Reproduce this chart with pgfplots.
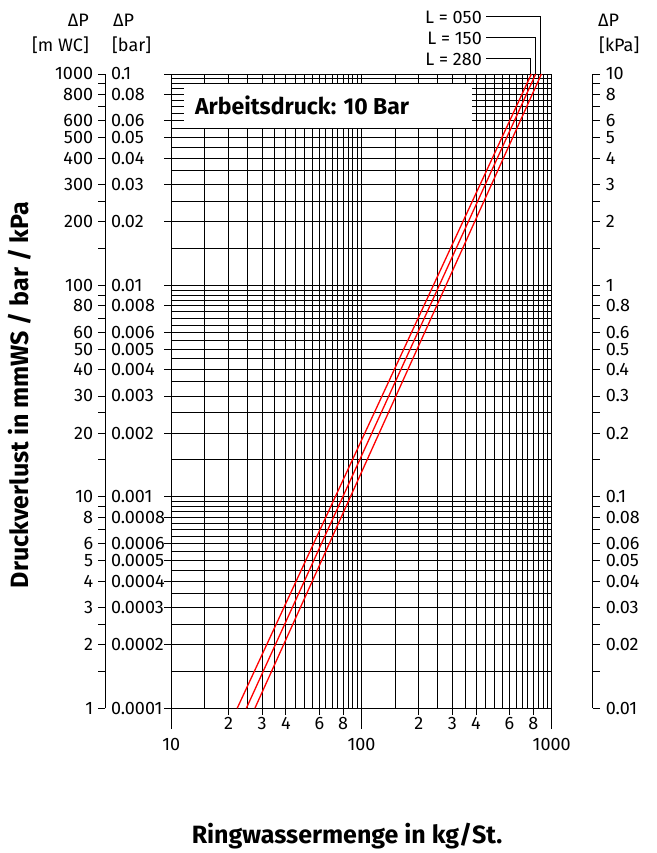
\documentclass[border=0pt]{standalone}
\usepackage{fontspec}
\setmainfont{Fira Sans}
\usepackage{pgfplots}
\pgfplotsset{compat=1.18}
\newcommand{\tf}{\fontsize{18}{18}\selectfont}
\newcommand{\bff}{\fontsize{23}{23}\selectfont\bfseries}
\newcommand{\bft}{\fontsize{25}{25}\selectfont\bfseries}
\begin{document}
\begin{tikzpicture}
\useasboundingbox (0,0) rectangle (656pt,853pt);
% main grid axis
\begin{axis}[
  at={(171.3pt,144.7pt)}, anchor=south west,
  scale only axis, width=380.4pt, height=634.3pt,
  xmode=log, ymode=log, xmin=10, xmax=1000, ymin=1, ymax=1000,
  clip=false,
  xtick={20,30,40,60,80,200,300,400,600,800},
  xticklabels={2,3,4,6,8,2,3,4,6,8},
  extra x ticks={10,100,1000},
  extra x tick labels={10,100,1000},
  extra x tick style={major tick length=21pt, xticklabel style={yshift=-7pt}},
  minor xtick={15,20,25,30,35,40,45,50,55,60,65,70,75,80,85,90,95,150,200,250,300,350,400,450,500,550,600,650,700,750,800,850,900,950},
  ytick={1,2,3,4,5,6,8,10,20,30,40,50,60,80,100,200,300,400,500,600,800,1000},
  yticklabels={},
  minor ytick={1.5,2,2.5,3,3.5,4,4.5,5,5.5,6,6.5,7,7.5,8,8.5,9,9.5,15,20,25,30,35,40,45,50,55,60,65,70,75,80,85,90,95,150,200,250,300,350,400,450,500,550,600,650,700,750,800,850,900,950},
  grid=both,
  major grid style={black, line width=0.9pt},
  minor grid style={black, line width=0.9pt},
  axis line style={black, line width=0.9pt},
  tick style={black, line width=0.9pt},
  tick align=outside, major tick length=7pt, minor tick length=0pt,
  xtick pos=bottom, ytick pos=left,
  xticklabel style={font=\tf, anchor=north, inner sep=0pt, yshift=-2pt},
]
\fill[white] (axis cs:11.66,900) rectangle (axis cs:381,556);
\node[anchor=west, font=\bff, inner sep=0pt] at (axis cs:13.3,713) {Arbeitsdruck: 10 Bar};
\addplot[red, line width=1.3pt] coordinates {(27.5,1) (883,1000)};
\addplot[red, line width=1.3pt] coordinates {(24.8,1) (824,1000)};
\addplot[red, line width=1.3pt] coordinates {(22.2,1) (782,1000)};
\end{axis}
% leader lines and L labels
\draw[black, line width=0.9pt] (540.7pt,779pt) -- (540.7pt,837pt) -- (486pt,837pt);
\draw[black, line width=0.9pt] (535pt,779pt) -- (535pt,815.7pt) -- (486pt,815.7pt);
\draw[black, line width=0.9pt] (530.7pt,779pt) -- (530.7pt,795pt) -- (486pt,795pt);
\node[anchor=east, font=\tf, inner sep=0pt] at (482pt,836pt) {L = 050};
\node[anchor=east, font=\tf, inner sep=0pt] at (482pt,815pt) {L = 150};
\node[anchor=east, font=\tf, inner sep=0pt] at (482pt,794pt) {L = 280};
% left scale: mWS
\begin{axis}[
  at={(105.3pt,144.7pt)}, anchor=south west,
  scale only axis, width=1pt, height=634.3pt,
  ymode=log, ymin=1, ymax=1000, xmin=0, xmax=1,
  hide x axis, axis y line*=left,
  ytick={1,2,3,4,5,6,8,10,20,30,40,50,60,80,100,200,300,400,500,600,800,1000},
  yticklabels={1,2,3,4,5,6,8,10,20,30,40,50,60,80,100,200,300,400,500,600,800,1000},
  minor ytick={1.5,2.5,7,9,15,25,70,90,150,250,700,900},
  tick align=outside, major tick length=7pt, minor tick length=7pt,
  axis line style={black, line width=0.9pt},
  tick style={black, line width=0.9pt},
  yticklabel style={font=\tf, anchor=east, inner sep=0pt, xshift=-5pt},
]
\end{axis}
% left scale: bar labels
\begin{axis}[
  at={(105.3pt,144.7pt)}, anchor=south east,
  scale only axis, width=1pt, height=634.3pt,
  ymode=log, ymin=1, ymax=1000, xmin=0, xmax=1,
  hide x axis, axis y line*=right,
  y axis line style={draw=none},
  ytick={1,2,3,4,5,6,8,10,20,30,40,50,60,80,100,200,300,400,500,600,800,1000},
  yticklabels={0.0001,0.0002,0.0003,0.0004,0.0005,0.0006,0.0008,0.001,0.002,0.003,0.004,0.005,0.006,0.008,0.01,0.02,0.03,0.04,0.05,0.06,0.08,0.1},
  major tick length=0pt,
  yticklabel style={font=\tf, anchor=west, inner sep=0pt, xshift=5.5pt},
]
\end{axis}
% right scale: kPa
\begin{axis}[
  at={(592.7pt,144.7pt)}, anchor=south east,
  scale only axis, width=1pt, height=634.3pt,
  ymode=log, ymin=1, ymax=1000, xmin=0, xmax=1,
  hide x axis, axis y line*=right,
  ytick={1,2,3,4,5,6,8,10,20,30,40,50,60,80,100,200,300,400,500,600,800,1000},
  yticklabels={0.01,0.02,0.03,0.04,0.05,0.06,0.08,0.1,0.2,0.3,0.4,0.5,0.6,0.8,1,2,3,4,5,6,8,10},
  minor ytick={1.5,2.5,7,9,15,25,70,90,150,250,700,900},
  tick align=outside, major tick length=7pt, minor tick length=7pt,
  axis line style={black, line width=0.9pt},
  tick style={black, line width=0.9pt},
  yticklabel style={font=\tf, anchor=west, inner sep=0pt, xshift=6pt},
]
\end{axis}
% headers
\node[anchor=east, font=\tf, inner sep=0pt] at (89pt,833pt) {ΔP};
\node[anchor=east, font=\tf, inner sep=0pt] at (89pt,808pt) {[m WC]};
\node[anchor=west, font=\tf, inner sep=0pt] at (113pt,833pt) {ΔP};
\node[anchor=west, font=\tf, inner sep=0pt] at (112pt,808pt) {[bar]};
\node[anchor=west, font=\tf, inner sep=0pt] at (598pt,833pt) {ΔP};
\node[anchor=west, font=\tf, inner sep=0pt] at (599pt,808pt) {[kPa]};
% axis titles
\node[font=\bft] at (347pt,17pt) {Ringwassermenge in kg/St.};
\node[font=\bft, rotate=90] at (20pt,458pt) {Druckverlust in mmWS / bar / kPa};
\end{tikzpicture}
\end{document}
